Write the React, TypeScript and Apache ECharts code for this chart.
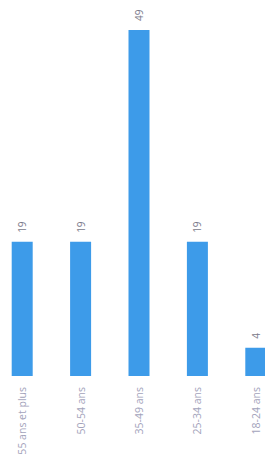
import React, { useEffect, useRef } from "react";
import * as echarts from "echarts";

const categories = ["55 ans et plus", "50-54 ans", "35-49 ans", "25-34 ans", "18-24 ans"];
const values = [19, 19, 49, 19, 4];

export default function App() {
  const ref = useRef<HTMLDivElement>(null);
  useEffect(() => {
    if (!ref.current) return;
    const chart = echarts.init(ref.current, null, { renderer: "svg" });
    chart.setOption({
      animation: false,
      grid: { left: 0, right: 0, top: 23, bottom: 87, containLabel: false },
      xAxis: {
        type: "category",
        data: categories,
        axisLine: { show: false },
        axisTick: { show: false },
        axisLabel: {
          rotate: 90,
          interval: 0,
          margin: 11,
          fontSize: 10.5,
          color: "#a3a3bb",
          fontFamily: "Open Sans",
        },
      },
      yAxis: {
        type: "value",
        min: 0,
        max: 50,
        show: false,
        splitLine: { show: false },
      },
      series: [
        {
          type: "bar",
          data: values,
          barWidth: 21,
          itemStyle: { color: "#3d9be9" },
          label: {
            show: true,
            position: "top",
            rotate: 90,
            align: "left",
            verticalAlign: "middle",
            distance: 9,
            fontSize: 10,
            color: "#7a7a8a",
            fontFamily: "Open Sans",
          },
        },
      ],
    });
    return () => chart.dispose();
  }, []);
  return (
    <div style={{ width: 265, height: 463, position: "absolute", left: 0, top: 0, overflow: "hidden" }}>
      <div ref={ref} style={{ width: 292, height: 463, position: "absolute", left: -7, top: 0 }} />
    </div>
  );
}
